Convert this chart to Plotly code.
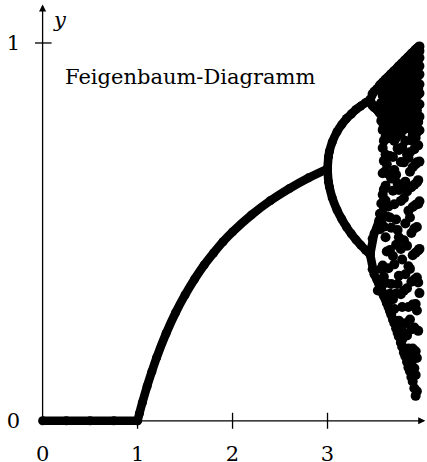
import plotly.graph_objects as go

# Attractor of the logistic map x -> r*x*(1-x), branch by branch
r_zero = [0.0, 0.25, 0.5, 0.75, 1.0]
x_zero = [0.0, 0.0, 0.0, 0.0, 0.0]

r_fixed = [1.0, 1.02, 1.05, 1.1, 1.15, 1.2, 1.3, 1.4, 1.5, 1.6, 1.7, 1.8, 1.9,
           2.0, 2.2, 2.4, 2.6, 2.8, 3.0]
x_fixed = [0.0, 0.020, 0.048, 0.091, 0.130, 0.167, 0.231, 0.286, 0.333, 0.375,
           0.412, 0.444, 0.474, 0.500, 0.545, 0.583, 0.615, 0.643, 0.667]

r_period2 = [3.0, 3.01, 3.02, 3.05, 3.1, 3.15, 3.2, 3.25, 3.3, 3.35, 3.4, 3.449]
x_period2_hi = [0.667, 0.699, 0.713, 0.738, 0.765, 0.784, 0.800, 0.812, 0.824,
                0.833, 0.842, 0.850]
x_period2_lo = [0.667, 0.633, 0.619, 0.590, 0.558, 0.534, 0.513, 0.495, 0.479,
                0.465, 0.452, 0.440]

r_period4 = [3.449, 3.47, 3.49, 3.52, 3.54]
x_period4 = [
    [0.850, 0.866, 0.872, 0.879, 0.884],
    [0.850, 0.834, 0.829, 0.823, 0.817],
    [0.440, 0.482, 0.495, 0.512, 0.530],
    [0.440, 0.401, 0.388, 0.373, 0.362],
]

# chaotic regime: sampled iterates per parameter value
r_chaos = [3.53, 3.552, 3.566, 3.581, 3.593, 3.611, 3.624, 3.642, 3.657, 3.671,
           3.689, 3.703, 3.722, 3.738, 3.751, 3.772, 3.786, 3.804, 3.819, 3.837,
           3.852, 3.868, 3.883, 3.897, 3.914, 3.928, 3.941, 3.955, 3.968]
x_chaos = [
    [0.345],
    [0.888, 0.879, 0.836, 0.815, 0.548, 0.507, 0.372, 0.355],
    [0.891, 0.872, 0.842, 0.812, 0.794, 0.575, 0.532, 0.402, 0.347],
    [0.895, 0.883, 0.861, 0.829, 0.801, 0.770, 0.722, 0.655, 0.598, 0.547, 0.411,
     0.338],
    [0.898, 0.887, 0.866, 0.848, 0.819, 0.782, 0.741, 0.688, 0.612, 0.566, 0.514,
     0.381, 0.331],
    [0.903, 0.891, 0.871, 0.842, 0.806, 0.789, 0.752, 0.705, 0.661, 0.622, 0.583,
     0.486, 0.365, 0.322],
    [0.906, 0.893, 0.878, 0.857, 0.833, 0.812, 0.771, 0.679, 0.541, 0.448, 0.312],
    [0.910, 0.899, 0.884, 0.861, 0.838, 0.806, 0.777, 0.748, 0.653, 0.567, 0.404,
     0.301],
    [0.914, 0.903, 0.889, 0.867, 0.845, 0.822, 0.797, 0.762, 0.701, 0.538, 0.452,
     0.336, 0.291],
    [0.918, 0.907, 0.891, 0.872, 0.849, 0.819, 0.786, 0.757, 0.641, 0.511, 0.362,
     0.281],
    [0.922, 0.911, 0.893, 0.878, 0.856, 0.831, 0.804, 0.772, 0.698, 0.609, 0.436,
     0.322, 0.268],
    [0.926, 0.915, 0.899, 0.881, 0.859, 0.833, 0.801, 0.776, 0.741, 0.664, 0.573,
     0.414, 0.296, 0.259],
    [0.930, 0.918, 0.902, 0.884, 0.862, 0.838, 0.809, 0.781, 0.749, 0.651, 0.533,
     0.466, 0.337, 0.245],
    [0.934, 0.922, 0.906, 0.887, 0.866, 0.842, 0.815, 0.786, 0.721, 0.628, 0.505,
     0.362, 0.252, 0.233],
    [0.938, 0.926, 0.910, 0.890, 0.868, 0.845, 0.818, 0.789, 0.717, 0.611, 0.486,
     0.384, 0.265, 0.223],
    [0.943, 0.931, 0.914, 0.894, 0.872, 0.849, 0.821, 0.792, 0.761, 0.685, 0.582,
     0.455, 0.335, 0.237, 0.207],
    [0.946, 0.934, 0.917, 0.896, 0.875, 0.852, 0.826, 0.796, 0.724, 0.618, 0.427,
     0.301, 0.215, 0.196],
    [0.951, 0.940, 0.925, 0.903, 0.877, 0.861, 0.829, 0.793, 0.771, 0.684, 0.589,
     0.478, 0.344, 0.233, 0.181],
    [0.955, 0.943, 0.921, 0.908, 0.884, 0.851, 0.834, 0.806, 0.741, 0.633, 0.522,
     0.388, 0.258, 0.171],
    [0.959, 0.947, 0.930, 0.902, 0.889, 0.866, 0.829, 0.812, 0.776, 0.705, 0.607,
     0.463, 0.351, 0.226, 0.156],
    [0.963, 0.951, 0.934, 0.915, 0.886, 0.869, 0.843, 0.804, 0.781, 0.696, 0.556,
     0.409, 0.301, 0.191, 0.141],
    [0.967, 0.955, 0.937, 0.918, 0.894, 0.862, 0.846, 0.818, 0.773, 0.711, 0.659,
     0.538, 0.402, 0.268, 0.168, 0.131],
    [0.971, 0.958, 0.941, 0.911, 0.899, 0.875, 0.839, 0.821, 0.788, 0.742, 0.618,
     0.497, 0.368, 0.242, 0.149, 0.116],
    [0.974, 0.962, 0.944, 0.923, 0.893, 0.879, 0.852, 0.812, 0.791, 0.756, 0.671,
     0.566, 0.438, 0.308, 0.191, 0.104],
    [0.978, 0.966, 0.948, 0.927, 0.904, 0.871, 0.855, 0.826, 0.783, 0.719, 0.625,
     0.509, 0.374, 0.247, 0.139, 0.086],
    [0.982, 0.969, 0.951, 0.922, 0.907, 0.883, 0.849, 0.829, 0.797, 0.749, 0.679,
     0.572, 0.445, 0.309, 0.184, 0.121, 0.066],
    [0.985, 0.973, 0.955, 0.933, 0.911, 0.886, 0.861, 0.821, 0.801, 0.763, 0.684,
     0.631, 0.513, 0.379, 0.292, 0.166, 0.078],
    [0.988, 0.976, 0.958, 0.936, 0.914, 0.879, 0.864, 0.835, 0.791, 0.729, 0.637,
     0.574, 0.451, 0.366, 0.238],
    [0.991, 0.979, 0.961, 0.939, 0.917, 0.891, 0.867, 0.838, 0.805, 0.769, 0.686,
     0.581, 0.455, 0.338],
]

x_tick_vals = [0, 1, 2, 3]
x_tick_text = ["0", "1", "2", "3"]
y_tick_vals = [0, 1]
y_tick_text = ["0", "1"]
title_text = "Feigenbaum-Diagramm"

SERIF = "DejaVu Serif"
DOT = 10
INK = "black"

fig = go.Figure()


def branch(rs, xs, shape="spline"):
    fig.add_trace(go.Scatter(
        x=rs, y=xs, mode="lines+markers",
        line=dict(color=INK, width=8.6, shape=shape, smoothing=0.8),
        marker=dict(color=INK, size=9),
        cliponaxis=False, hoverinfo="skip", showlegend=False,
    ))


branch(r_zero, x_zero, "linear")
branch(r_fixed, x_fixed)
branch(r_period2, x_period2_hi)
branch(r_period2, x_period2_lo)
for xs in x_period4:
    branch(r_period4, xs, "linear")

flat_r, flat_x = [], []
for r, col in zip(r_chaos, x_chaos):
    for v in col:
        flat_r.append(r)
        flat_x.append(v)
fig.add_trace(go.Scatter(
    x=flat_r, y=flat_x, mode="markers",
    marker=dict(color=INK, size=DOT, line=dict(width=0)),
    cliponaxis=False, hoverinfo="skip", showlegend=False,
))

# axes with arrowheads
axis_style = dict(xref="x", yref="y", axref="x", ayref="y", text="",
                  showarrow=True, arrowhead=2, arrowsize=1.1, arrowwidth=1.3,
                  arrowcolor=INK, standoff=0, startstandoff=0)
fig.add_annotation(x=4.03, y=0, ax=0, ay=0, **axis_style)
fig.add_annotation(x=0, y=1.102, ax=0, ay=0, **axis_style)

# tick marks crossing the axes
for t in x_tick_vals[1:]:
    fig.add_shape(type="line", xref="x", yref="y", ysizemode="pixel", yanchor=0,
                  x0=t, x1=t, y0=-8, y1=8, line=dict(color=INK, width=1.3))
fig.add_shape(type="line", xref="x", yref="y", xsizemode="pixel", xanchor=0,
              x0=-9, x1=9, y0=1, y1=1, line=dict(color=INK, width=1.3))

fig.add_annotation(x=3.984, y=-0.046, xref="x", yref="y", text="<i>x</i>",
                   showarrow=False, font=dict(family=SERIF, size=21, color=INK))
fig.add_annotation(x=0.184, y=1.061, xref="x", yref="y", text="<i>y</i>",
                   showarrow=False, font=dict(family=SERIF, size=21, color=INK))
fig.add_annotation(x=0.216, y=0.91, xref="x", yref="y", text=title_text,
                   xanchor="left", showarrow=False,
                   font=dict(family=SERIF, size=21, color=INK))

fig.update_layout(
    width=427, height=462,
    margin=dict(l=34.9, r=0, t=0, b=28.1, pad=0, autoexpand=False),
    paper_bgcolor="white", plot_bgcolor="white",
    xaxis=dict(range=[-0.08, 4.0474], showgrid=False, zeroline=False,
               showline=False, ticks="", tickvals=x_tick_vals,
               ticktext=x_tick_text, ticklabelstandoff=5, automargin=False,
               tickfont=dict(family=SERIF, size=21, color=INK)),
    yaxis=dict(range=[-0.035, 1.1138], showgrid=False, zeroline=False,
               showline=False, ticks="", tickvals=y_tick_vals,
               ticktext=y_tick_text, ticklabelstandoff=14, automargin=False,
               tickfont=dict(family=SERIF, size=21, color=INK)),
)

fig.write_html("out.html")
